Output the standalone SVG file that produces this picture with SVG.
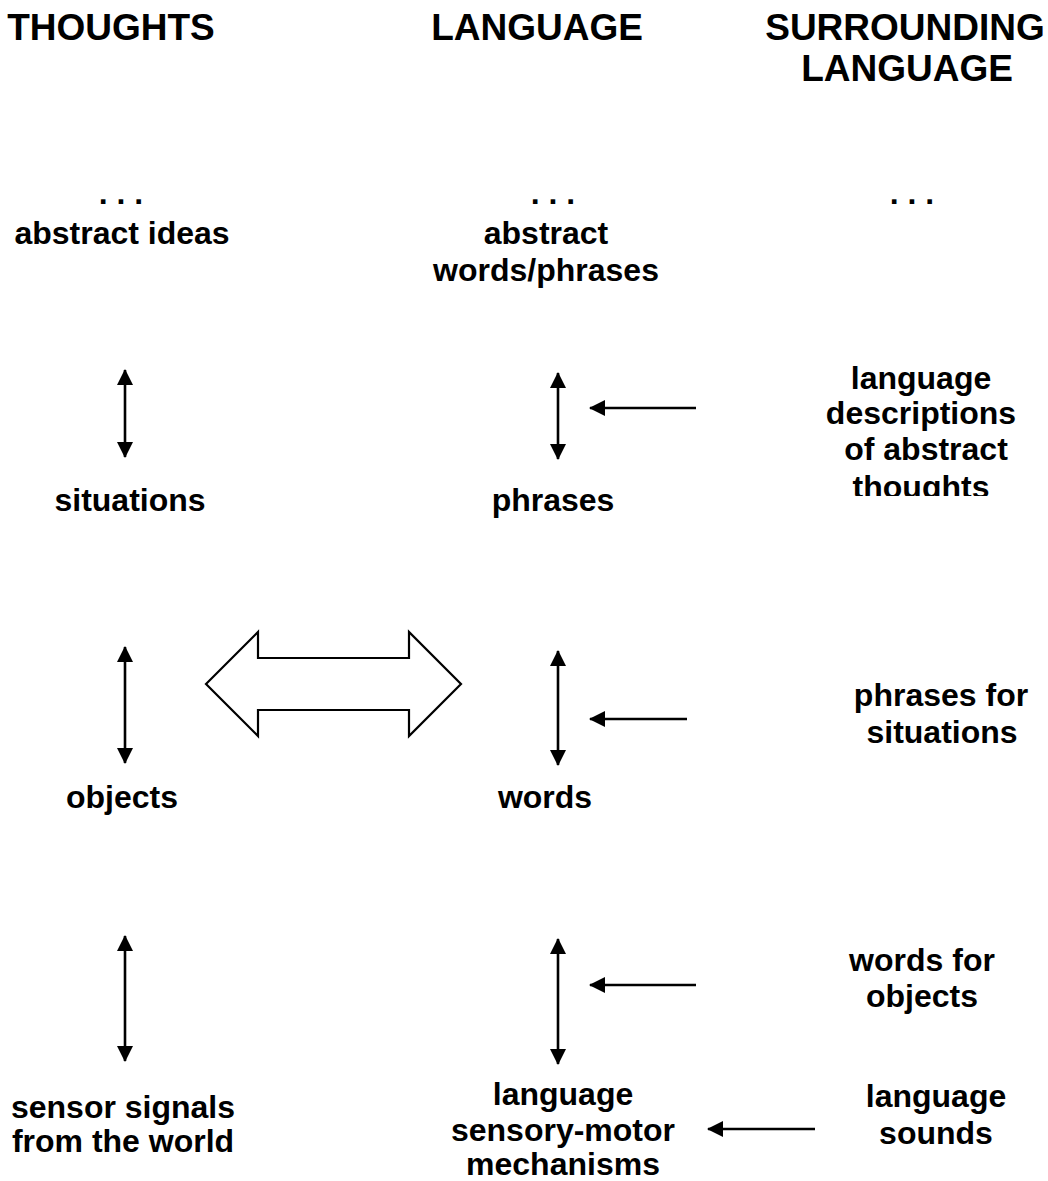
<svg xmlns="http://www.w3.org/2000/svg" width="1048" height="1181" viewBox="0 0 1048 1181">
<style>
text{font-family:"Liberation Sans",Arial,sans-serif;font-weight:bold;fill:#000;text-anchor:middle}
.h{font-size:37px}
.t{font-size:32px}
.ln{stroke:#000;stroke-width:2.6;fill:none}
</style>
<defs>
<marker id="ah" viewBox="0 0 16 16" refX="15" refY="8" markerWidth="16" markerHeight="16" markerUnits="userSpaceOnUse" orient="auto-start-reverse">
<path d="M0,0 L16,8 L0,16 Z" fill="#000"/>
</marker>
<clipPath id="dotclip"><rect x="0" y="198" width="1048" height="20"/></clipPath>
<clipPath id="thclip"><rect x="780" y="300" width="268" height="196"/></clipPath>
</defs>
<rect width="1048" height="1181" fill="#fff"/>
<g id="headers">
<text class="h" x="111" y="40">THOUGHTS</text>
<text class="h" x="537" y="40">LANGUAGE</text>
<text class="h" x="905" y="40">SURROUNDING</text>
<text class="h" x="907" y="81">LANGUAGE</text>
</g>
<g id="dots" clip-path="url(#dotclip)">
<text class="t" x="121" y="204">. . .</text>
<text class="t" x="553" y="204">. . .</text>
<text class="t" x="912" y="204">. . .</text>
</g>
<g id="abstract-ideas"><text class="t" x="122" y="244">abstract ideas</text></g>
<g id="abstract-words"><text class="t" x="546" y="244">abstract</text><text class="t" x="546" y="281">words/phrases</text></g>
<g id="desc-abstract" clip-path="url(#thclip)">
<text class="t" x="921" y="389">language</text>
<text class="t" x="921" y="424">descriptions</text>
<text class="t" x="926" y="460">of abstract</text>
<text class="t" x="921" y="498">thoughts</text>
</g>
<g id="situations"><text class="t" x="130" y="511">situations</text></g>
<g id="phrases"><text class="t" x="553" y="511">phrases</text></g>
<g id="phrases-for"><text class="t" x="941" y="706">phrases for</text><text class="t" x="942" y="743">situations</text></g>
<g id="objects"><text class="t" x="122" y="808">objects</text></g>
<g id="words"><text class="t" x="545" y="808">words</text></g>
<g id="words-for"><text class="t" x="922" y="971">words for</text><text class="t" x="922" y="1007">objects</text></g>
<g id="sensor"><text class="t" x="123" y="1118">sensor signals</text><text class="t" x="123" y="1152">from the world</text></g>
<g id="lang-sm"><text class="t" x="563" y="1105">language</text><text class="t" x="563" y="1141">sensory-motor</text><text class="t" x="563" y="1175">mechanisms</text></g>
<g id="lang-sounds"><text class="t" x="936" y="1107">language</text><text class="t" x="936" y="1144">sounds</text></g>
<g id="connectors">
<line class="ln" x1="125" y1="370" x2="125" y2="457" marker-start="url(#ah)" marker-end="url(#ah)"/>
<line class="ln" x1="125" y1="647" x2="125" y2="763" marker-start="url(#ah)" marker-end="url(#ah)"/>
<line class="ln" x1="125" y1="936" x2="125" y2="1061" marker-start="url(#ah)" marker-end="url(#ah)"/>
<line class="ln" x1="558" y1="373" x2="558" y2="459" marker-start="url(#ah)" marker-end="url(#ah)"/>
<line class="ln" x1="558" y1="651" x2="558" y2="765" marker-start="url(#ah)" marker-end="url(#ah)"/>
<line class="ln" x1="558" y1="939" x2="558" y2="1064" marker-start="url(#ah)" marker-end="url(#ah)"/>
<line class="ln" x1="696" y1="408" x2="590" y2="408" marker-end="url(#ah)"/>
<line class="ln" x1="687" y1="719" x2="590" y2="719" marker-end="url(#ah)"/>
<line class="ln" x1="696" y1="985" x2="590" y2="985" marker-end="url(#ah)"/>
<line class="ln" x1="815" y1="1129" x2="708" y2="1129" marker-end="url(#ah)"/>
<path d="M206,684 L258,632 L258,658 L409,658 L409,632 L461,684 L409,736 L409,710 L258,710 L258,736 Z" fill="#fff" stroke="#000" stroke-width="2.2" stroke-linejoin="miter"/>
</g>
</svg>
